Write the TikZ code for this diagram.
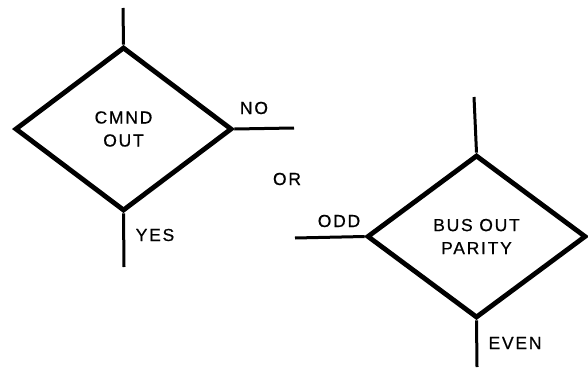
\documentclass[tikz,border=0pt]{standalone}
\usepackage{fontspec}
\setmainfont{Liberation Sans}[LetterSpace=10, FakeBold=0.6]
\usepackage{tikz}
\usetikzlibrary{shapes.geometric,positioning}

\begin{document}
\begin{tikzpicture}[
      x=1pt, y=-1pt,
      decision/.style={diamond, draw=black, line width=4.8pt, inner sep=0pt,
                       align=center, font=\fontsize{17.5}{23}\selectfont},
      stem/.style={draw=black, line width=3pt},
      tag/.style={font=\fontsize{17.5}{20}\selectfont, inner sep=0pt}
    ]
      \useasboundingbox (0,0) rectangle (588,369);
      %% Left decision box
      \node[decision, minimum width=217pt, minimum height=164pt]
            (cmnd) at (123.5, 129) {CMND\\OUT};
      \coordinate (cmndtop) at (123, 8);
      \coordinate (cmndno)  at (294, 128);
      \coordinate (cmndyes) at (124, 267);
      \draw[stem] (cmndtop) -- (cmnd.north);
      \draw[stem] (cmnd.east) -- (cmndno);
      \draw[stem] (cmnd.south) -- (cmndyes);
      \node[tag] (no)  at (254, 108) {NO};
      \node[tag] (yes) at (155, 235) {YES};
      %% Between the two
      \node[tag] (or) at (287, 179) {OR};
      %% Right decision box
      \node[decision, minimum width=219pt, minimum height=163pt]
            (parity) at (476.5, 236.5) {BUS OUT\\PARITY};
      \coordinate (paritytop)  at (474, 97);
      \coordinate (parityodd)  at (295, 238);
      \coordinate (parityeven) at (477, 367);
      \draw[stem] (paritytop) -- (parity.north);
      \draw[stem] (parityodd) -- (parity.west);
      \draw[stem] (parity.south) -- (parityeven);
      \node[tag] (odd)  at (339, 221) {ODD};
      \node[tag] (even) at (515, 343) {EVEN};
    \end{tikzpicture}
\end{document}
